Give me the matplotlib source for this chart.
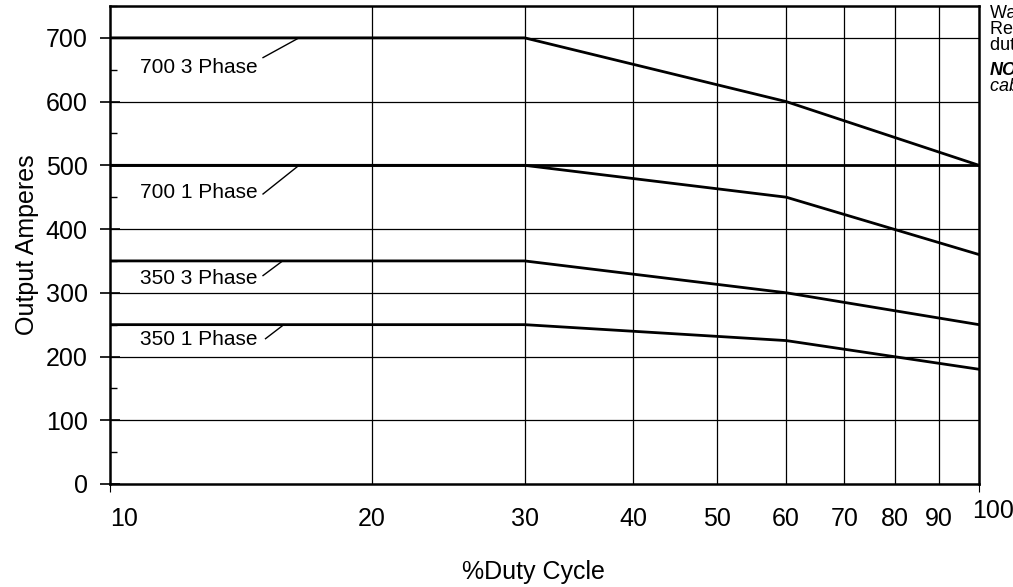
import numpy as np
import matplotlib.pyplot as plt
from matplotlib.ticker import FixedLocator, NullFormatter

plt.rcParams['font.family'] = ['Liberation Sans', 'DejaVu Sans']

duty = [10, 30, 60, 100]
amps_700_3ph = [700, 700, 600, 500]
amps_700_1ph = [500, 500, 450, 360]
amps_350_3ph = [350, 350, 300, 250]
amps_350_1ph = [250, 250, 225, 180]
names = ["700 3 Phase", "700 1 Phase", "350 3 Phase", "350 1 Phase"]
# label text y and leader line (start, end) in data units
label_y = [653, 458, 323, 226]
leader_x = [(15.0, 16.5), (15.0, 16.5), (15.0, 15.8), (15.1, 15.85)]
leader_y = [(669, 700), (455, 500), (327, 350), (228, 250)]

xticks = [10, 20, 30, 40, 50, 60, 70, 80, 90, 100]
yticks = [0, 100, 200, 300, 400, 500, 600, 700]

fig = plt.figure(figsize=(10.13, 5.87), dpi=100)
ax = fig.add_axes([0.1086, 0.1755, 0.8578, 0.8143])

ax.set_xscale("log")
ax.set_xlim(10, 100)
ax.set_ylim(0, 750)

for v in xticks[1:-1]:
    ax.axvline(v, color="black", lw=0.9, zorder=1)
for v in yticks[1:]:
    ax.axhline(v, color="black", lw=0.9, zorder=1)
ax.axhline(500, color="black", lw=2.0, zorder=2)

for series in [amps_700_3ph, amps_700_1ph, amps_350_3ph, amps_350_1ph]:
    ax.plot(duty, series, color="black", lw=2.0, zorder=3)

for i in range(4):
    ax.text(10.83, label_y[i], names[i], fontsize=15, va="center", ha="left")
    ax.plot(leader_x[i], leader_y[i], color="black", lw=1.0)

ax.xaxis.set_major_locator(FixedLocator(xticks))
ax.xaxis.set_minor_locator(FixedLocator([]))
ax.xaxis.set_minor_formatter(NullFormatter())
# end labels "10" and "100" are drawn by hand, shifted like the original
ax.set_xticklabels([""] + [str(t) for t in xticks[1:-1]] + [""])
ax.tick_params(axis="x", length=0, pad=16.5, labelsize=18)
for i, t in enumerate(ax.xaxis.get_major_ticks()):
    if i in (0, len(xticks) - 1):
        t.tick1line.set_markersize(6)
ax.annotate(str(xticks[0]), xy=(xticks[0], 0), xytext=(10, -25.5),
            textcoords="offset points", ha="center", va="center", fontsize=18)
ax.annotate(str(xticks[-1]), xy=(xticks[-1], 0), xytext=(10, -19.5),
            textcoords="offset points", ha="center", va="center", fontsize=18)

ax.set_yticks(yticks)
ax.set_yticks(np.arange(50, 751, 100), minor=True)
ax.tick_params(axis="y", which="major", direction="inout", length=14, width=1.2, labelsize=18, pad=9)
ax.tick_params(axis="y", which="minor", direction="in", length=5, width=1.0)

for s in ax.spines.values():
    s.set_linewidth(1.8)

ax.set_xlabel("%Duty Cycle", fontsize=18, labelpad=21)
ax.xaxis.label.set_x(0.487)
ax.set_ylabel("Output Amperes", fontsize=18, labelpad=5)

fig.text(0.977, 0.977, "Water-cooled torch", fontsize=13, va="center")
fig.text(0.977, 0.950, "Recommended above", fontsize=13, va="center")
fig.text(0.977, 0.922, "duty cycle", fontsize=13, va="center")
fig.text(0.977, 0.880, "NOTE:", fontsize=13, va="center", weight="bold", style="italic")
fig.text(0.977, 0.852, "cable size", fontsize=13, va="center", style="italic")

fig.savefig("out.png", dpi=100)
